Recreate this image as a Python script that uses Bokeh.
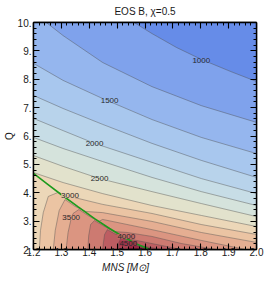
import math
from bokeh.plotting import figure
from bokeh.models import LinearAxis, FixedTicker, Label, Range1d, CustomJSTickFormatter
from bokeh.embed import file_html
from bokeh.resources import INLINE

# ---------------- values ----------------
M_LIMITS = [1.2, 2.0]
Q_LIMITS = [2.0, 10.0]

x_ticks = [1.2, 1.3, 1.4, 1.5, 1.6, 1.7, 1.8, 1.9, 2.0]
x_tick_labels = ["1.2", "1.3", "1.4", "1.5", "1.6", "1.7", "1.8", "1.9", "2.0"]
y_ticks = [2, 3, 4, 5, 6, 7, 8, 9, 10]
y_tick_labels = ["2.", "3.", "4.", "5.", "6.", "7.", "8.", "9.", "10."]

title_text = "EOS B, χ=0.5"
x_label = "MNS [M⊙]"
y_label = "Q"

levels = [1000, 1250, 1500, 1750, 2000, 2250, 2500, 2750,
          3000, 3250, 3500, 3750, 4000, 4250, 4500]

# band colours, from the lowest band (<1000) to the highest (>4500)
band_colors = ["#668ce8", "#7fa2ec", "#95b6ee", "#a8c7ee", "#b8d3eb", "#c7dde6",
               "#d5e3dc", "#e2e2cc", "#ecd7b8", "#ebc4a3", "#e5ae92", "#db9581",
               "#cd7a71", "#bd5d62", "#ac4152", "#9a2844"]

# contour lines (M_NS, Q) per level
c1000_M = [1.561, 1.625, 1.713, 1.802, 1.908, 2.0]
c1000_Q = [10.0, 9.61, 9.12, 8.70, 8.27, 7.92]
c1250_M = [1.246, 1.306, 1.448, 1.625, 1.802, 2.0]
c1250_Q = [10.0, 9.54, 8.59, 7.74, 7.07, 6.48]
c1500_M = [1.2, 1.306, 1.448, 1.625, 1.802, 2.0]
c1500_Q = [8.56, 7.96, 7.32, 6.58, 5.95, 5.38]
c1750_M = [1.2, 1.306, 1.448, 1.625, 1.802, 2.0]
c1750_Q = [7.43, 6.97, 6.41, 5.74, 5.14, 4.54]
c2000_M = [1.2, 1.306, 1.419, 1.625, 1.802, 2.0]
c2000_Q = [6.62, 6.19, 5.74, 5.07, 4.50, 3.97]
c2250_M = [1.2, 1.306, 1.448, 1.625, 1.802, 2.0]
c2250_Q = [5.95, 5.56, 5.10, 4.54, 4.04, 3.55]
c2500_M = [1.2, 1.306, 1.437, 1.625, 1.802, 2.0]
c2500_Q = [5.31, 4.93, 4.50, 4.04, 3.62, 3.16]
c2750_M = [1.2, 1.306, 1.448, 1.625, 1.802, 2.0]
c2750_Q = [4.71, 4.36, 3.97, 3.55, 3.20, 2.81]
c3000_M = [2.0, 1.802, 1.625, 1.448, 1.331, 1.288, 1.253, 1.235, 1.225, 1.221]
c3000_Q = [2.53, 2.88, 3.27, 3.59, 3.87, 4.01, 3.87, 3.30, 2.67, 2.0]
c3250_M = [2.0, 1.802, 1.625, 1.448, 1.388, 1.349, 1.313, 1.292, 1.278, 1.271]
c3250_Q = [2.25, 2.60, 2.99, 3.30, 3.34, 3.52, 3.76, 3.37, 2.67, 2.0]
c3500_M = [1.961, 1.802, 1.625, 1.448, 1.434, 1.395, 1.363, 1.342, 1.335, 1.324, 1.317]
c3500_Q = [2.0, 2.32, 2.70, 3.06, 2.99, 3.20, 3.41, 3.27, 3.09, 2.60, 2.0]
c3750_M = [1.855, 1.731, 1.625, 1.536, 1.490, 1.448, 1.419, 1.405, 1.398, 1.395]
c3750_Q = [2.0, 2.21, 2.46, 2.60, 2.63, 2.85, 3.02, 2.88, 2.49, 2.0]
c4000_M = [1.731, 1.625, 1.533, 1.490, 1.465, 1.455, 1.451, 1.448]
c4000_Q = [2.0, 2.21, 2.39, 2.56, 2.70, 2.53, 2.25, 2.0]
c4250_M = [1.660, 1.582, 1.536, 1.515, 1.506, 1.503]
c4250_Q = [2.0, 2.14, 2.32, 2.42, 2.25, 2.0]
c4500_M = [1.632, 1.607, 1.575, 1.550, 1.542, 1.538]
c4500_Q = [2.0, 2.03, 2.12, 2.22, 2.14, 2.0]

# green boundary curve
green_M = [1.2, 1.25, 1.299, 1.359, 1.419, 1.473, 1.526, 1.572, 1.618]
green_Q = [4.68, 4.305, 3.938, 3.509, 3.089, 2.74, 2.423, 2.183, 2.0]

# contour labels
label_text = ["1000", "1500", "2000", "2500", "3000", "3500", "4000", "4500"]
label_M = [1.802, 1.473, 1.419, 1.437, 1.331, 1.335, 1.533, 1.540]
label_Q = [8.66, 7.25, 5.74, 4.50, 3.90, 3.13, 2.46, 2.21]

# ---------------- build ----------------
contours = [(c1000_M, c1000_Q), (c1250_M, c1250_Q), (c1500_M, c1500_Q),
            (c1750_M, c1750_Q), (c2000_M, c2000_Q), (c2250_M, c2250_Q),
            (c2500_M, c2500_Q), (c2750_M, c2750_Q), (c3000_M, c3000_Q),
            (c3250_M, c3250_Q), (c3500_M, c3500_Q), (c3750_M, c3750_Q),
            (c4000_M, c4000_Q), (c4250_M, c4250_Q), (c4500_M, c4500_Q)]

M0, M1 = M_LIMITS
Q0, Q1 = Q_LIMITS
corner_xy = [(M0, Q0), (M0, Q1), (M1, Q1), (M1, Q0)]


def perim(m, q):
    d = {"L": abs(m - M0) / (M1 - M0), "T": abs(q - Q1) / (Q1 - Q0),
         "R": abs(m - M1) / (M1 - M0), "B": abs(q - Q0) / (Q1 - Q0)}
    e = min(d, key=d.get)
    if e == "L":
        return (q - Q0) / (Q1 - Q0)
    if e == "T":
        return 1 + (m - M0) / (M1 - M0)
    if e == "R":
        return 2 + (Q1 - q) / (Q1 - Q0)
    return 3 + (M1 - m) / (M1 - M0)


def region(ms, qs):
    """polygon of the side of a contour that holds the top-right corner (lower values)"""
    sa = perim(ms[0], qs[0])
    sb = perim(ms[-1], qs[-1])
    lo = sa if sa < sb else sa - 4
    dec = [c for c in range(3, -5, -1) if lo < c < sb]
    hi = sa if sa > sb else sa + 4
    inc = [c for c in range(0, 8) if sb < c < hi]
    use = dec if any(c % 4 == 2 for c in dec) else inc
    xs = list(ms) + [corner_xy[c % 4][0] for c in use]
    ys = list(qs) + [corner_xy[c % 4][1] for c in use]
    return xs, ys


def blend(a, b):
    ca = [int(a[i:i + 2], 16) for i in (1, 3, 5)]
    cb = [int(b[i:i + 2], 16) for i in (1, 3, 5)]
    return "#" + "".join("%02x" % ((x + y) // 2) for x, y in zip(ca, cb))


FONT = "Liberation Sans"
TXT = "#1a1a1a"

p = figure(width=264, height=280, x_range=Range1d(M0, M1), y_range=Range1d(Q0, Q1),
           output_backend="svg", toolbar_location=None,
           min_border_left=30, min_border_right=8, min_border_top=22, min_border_bottom=31)
p.background_fill_color = band_colors[-1]
p.border_fill_color = "white"
p.outline_line_color = "black"
p.outline_line_width = 1.4
p.xgrid.visible = False
p.ygrid.visible = False

p.title.text = title_text
p.title.text_font = FONT
p.title.text_font_size = "10px"
p.title.text_font_style = "normal"
p.title.text_color = TXT
p.title.align = "center"
p.title.vertical_align = "top"
p.title.standoff = 7

# filled bands: paint {z < L} from the highest level down
pxs, pys, pcols = [], [], []
for i in range(len(levels) - 1, -1, -1):
    xs, ys = region(*contours[i])
    pxs.append(xs)
    pys.append(ys)
    pcols.append(band_colors[i])
p.patches(pxs, pys, fill_color=pcols, line_color=None)

# contour lines
p.multi_line([c[0] for c in contours], [c[1] for c in contours],
             line_color="#505050", line_alpha=0.55, line_width=0.8)

# green curve
p.line(green_M, green_Q, line_color="#1c9a1c", line_width=1.6)

# contour labels
for t, m, q in zip(label_text, label_M, label_Q):
    i = levels.index(int(t))
    p.add_layout(Label(x=m, y=q, text=t, text_font=FONT, text_font_size="8px",
                       text_color="#2a2a2a", text_align="center", text_baseline="middle",
                       background_fill_color=blend(band_colors[i], band_colors[i + 1]),
                       background_fill_alpha=0.85))

# axes
x_minor = [round(M0 + 0.02 * k, 2) for k in range(int(round((M1 - M0) / 0.02)) + 1)]
y_minor = [round(Q0 + 0.2 * k, 1) for k in range(int(round((Q1 - Q0) / 0.2)) + 1)]

LOOKUP = """
let best = -1, bd = 1e9;
for (let i = 0; i < tvals.length; i++) {
  const d = Math.abs(tvals[i] - tick);
  if (d < bd) { bd = d; best = i; }
}
return (best >= 0 && bd < 1e-6) ? tlabels[best] : "";
"""


def style(ax, labels):
    ax.major_tick_in = 6
    ax.major_tick_out = 0
    ax.minor_tick_in = 3
    ax.minor_tick_out = 0
    ax.axis_line_color = "black"
    ax.axis_line_width = 1.4
    ax.major_tick_line_width = 1.1
    ax.minor_tick_line_width = 1.0
    ax.major_label_text_font = FONT
    ax.major_label_text_font_size = "10px" if labels else "0px"
    ax.major_label_text_color = TXT
    ax.axis_label_text_font = FONT
    ax.axis_label_text_font_size = "10px"
    ax.axis_label_text_color = TXT


xb = p.xaxis[0]
xb.ticker = FixedTicker(ticks=x_ticks, minor_ticks=x_minor)
xb.formatter = CustomJSTickFormatter(args=dict(tvals=x_ticks, tlabels=x_tick_labels), code=LOOKUP)
xb.major_label_standoff = -2
style(xb, True)
xb.axis_label = x_label + "\u00a0" * 14
xb.axis_label_text_font_style = "italic"
xb.axis_label_standoff = 3

yl = p.yaxis[0]
yl.ticker = FixedTicker(ticks=y_ticks, minor_ticks=y_minor)
yl.formatter = CustomJSTickFormatter(args=dict(tvals=y_ticks, tlabels=y_tick_labels), code=LOOKUP)
yl.major_label_standoff = 2
style(yl, True)
yl.axis_label = y_label
yl.axis_label_text_font_style = "normal"
yl.axis_label_standoff = 0

xt = LinearAxis(ticker=FixedTicker(ticks=x_ticks, minor_ticks=x_minor),
                formatter=CustomJSTickFormatter(code="return '';"), major_label_standoff=0)
style(xt, False)
p.add_layout(xt, "above")
yr = LinearAxis(ticker=FixedTicker(ticks=y_ticks, minor_ticks=y_minor),
                formatter=CustomJSTickFormatter(code="return '';"), major_label_standoff=0)
style(yr, False)
p.add_layout(yr, "right")

open("out.html", "w").write(file_html(p, INLINE))
